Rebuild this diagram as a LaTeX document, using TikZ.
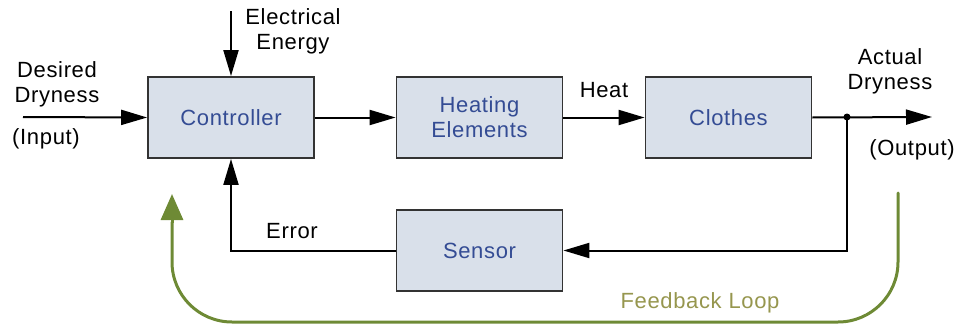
\documentclass[tikz,border=0pt]{standalone}
\usepackage{fontspec}
\setmainfont{Liberation Sans}
\usetikzlibrary{arrows.meta}
\definecolor{boxfill}{HTML}{D9E0EA}
\definecolor{boxtext}{HTML}{344C94}
\definecolor{loopgreen}{HTML}{6E8A35}
\definecolor{looptext}{HTML}{96964E}
\tikzset{
  blk/.style={draw=black!80, line width=1.8pt, fill=boxfill, minimum width=166pt, minimum height=81pt, inner sep=0pt, text=boxtext, align=center, font=\fontsize{22}{25}\selectfont\addfontfeatures{LetterSpace=3}},
  lbl/.style={align=center, inner sep=0pt, font=\fontsize{22}{25}\selectfont\addfontfeatures{LetterSpace=3}},
  conn/.style={line width=2pt, -{Triangle[length=26pt,width=15pt]}},
  fb/.style={draw=loopgreen, line width=3pt, rounded corners=60pt}
}
\begin{document}
\begin{tikzpicture}[x=1pt,y=-1pt]
\useasboundingbox (0,0) rectangle (959,324);
\node[blk] (ctrl) at (231,117.5) {Controller};
\node[blk] (heat) at (479.5,117.5) {Heating\\Elements};
\node[blk] (cloth) at (728.5,117.5) {Clothes};
\node[blk] (sens) at (479.5,250.5) {Sensor};
\coordinate (inp) at (23,117);
\coordinate (elec) at (231,11);
\coordinate (out) at (932,117);
\coordinate (split) at (847,117);
\node[lbl, anchor=center] (tdes) at (57,84) {Desired\\Dryness};
\node[lbl] (tin) at (46,139) {(Input)};
\node[lbl] (telec) at (293,31) {Electrical\\Energy};
\node[lbl] (theat) at (604,90) {Heat};
\node[lbl] (tact) at (890,71) {Actual\\Dryness};
\node[lbl] (tout) at (912,150) {(Output)};
\node[lbl] (terr) at (292,231) {Error};
\node[lbl, text=looptext] (tfb) at (700,303) {Feedback Loop};
\draw[conn] (inp) -- (ctrl.west);
\draw[conn] (elec) -- (ctrl.north);
\draw[conn] (ctrl.east) -- (heat.west);
\draw[conn] (heat.east) -- (cloth.west);
\draw[conn] (cloth.east) -- (out);
\fill (split) circle (3.5pt);
\draw[conn] (split) |- (sens.east);
\draw[conn] (sens.west) -| (ctrl.south);
\coordinate (fbs) at (898,193);
\coordinate (fbe) at (172,194);
\draw[fb, line cap=round] (fbs) -- (898,322) -- (172,322) -- (172,222);
\draw[draw=loopgreen, fill=loopgreen, line width=3pt, -{Triangle[length=26pt,width=22pt]}] (172,223) -- (fbe);
\end{tikzpicture}
\end{document}
